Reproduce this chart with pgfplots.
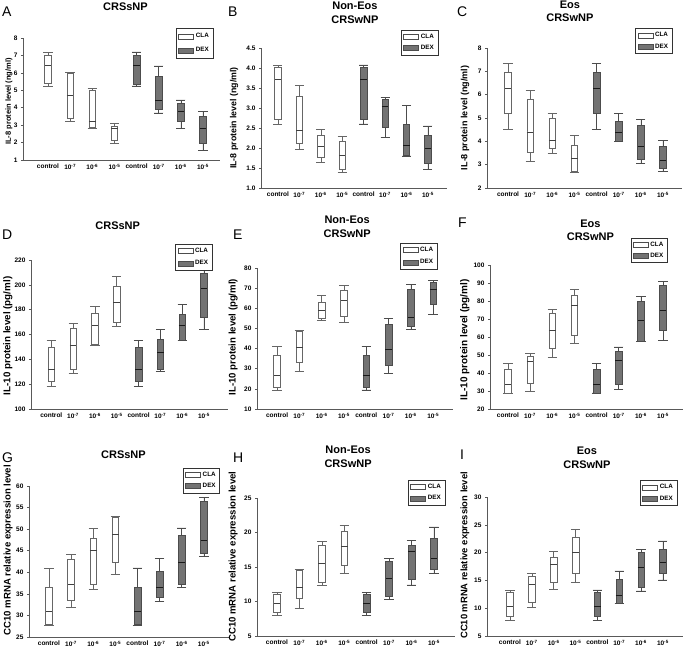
\documentclass[border=0pt]{standalone}
\usepackage{pgfplots}
\pgfplotsset{compat=1.18}
\usepackage{pgfplotstable}
\usepgfplotslibrary{statistics}
\usepackage{fontspec}
\setmainfont{Liberation Sans}

% columns: lower whisker, lower quartile, median, upper quartile, upper whisker; rows = control,1e-7,1e-6,1e-5 (CLA) then control,1e-7,1e-6,1e-5 (DEX)
\pgfplotstableread{
lw lq med uq uw
5.25 5.4 6.45 7.0 7.2
3.25 3.4 4.7 5.95 6.05
2.8 2.9 3.2 5.0 5.1
1.95 2.15 2.8 2.95 3.1
5.25 5.35 6.45 7.0 7.2
3.7 3.9 4.4 5.8 6.4
2.8 3.2 3.8 4.25 4.45
1.55 1.95 2.8 3.5 3.8
}\tA
\pgfplotstableread{
lw lq med uq uw
2.6 2.72 3.72 4.03 4.08
1.98 2.12 2.43 3.3 3.57
1.65 1.78 2.05 2.33 2.47
1.4 1.48 1.82 2.17 2.3
2.6 2.72 3.72 4.03 4.08
2.27 2.53 3.05 3.22 3.27
1.8 1.82 2.07 2.6 3.07
1.47 1.62 2.0 2.33 2.55
}\tB
\pgfplotstableread{
lw lq med uq uw
4.52 5.22 6.27 6.95 7.35
3.15 3.55 4.4 5.8 6.17
3.5 3.72 4.05 4.98 5.22
2.68 2.72 3.27 3.85 4.27
4.52 5.22 6.27 6.95 7.35
4.0 4.0 4.4 4.85 5.2
3.07 3.22 3.8 4.7 4.93
2.72 2.85 3.2 3.8 4.05
}\tC
\pgfplotstableread{
lw lq med uq uw
118 122 132 150 155
129 132 151 165 169
151 152 167 177 183
167 170 186 199 207
118 122 132 150 155
130 132 146 156 164
155 155 167 176 184
164 174 197 209 212
}\tD
\pgfplotstableread{
lw lq med uq uw
19.5 21 26.5 36.5 41
28.5 33 40.5 48.5 49
54 55 59 63 66.5
53 56 64 69 71.5
19.5 21 26.5 36.5 41
27.5 31.5 39.5 52 55
49.5 51 55.5 69.5 72
57 62 69.5 73 74
}\tE
\pgfplotstableread{
lw lq med uq uw
29 29 33.5 42 45.5
30 34.5 46.5 49.5 51
48.5 53.5 63.5 73 75.5
56.5 61 77.5 83 86.5
29 29 33.5 42 45.5
31 34 47 52 54.5
57.5 57.5 69 80 82.5
58 63.5 75 89 91
}\tF
\pgfplotstableread{
lw lq med uq uw
27.7 28 31 36.5 41
32 33.5 37.2 43 44.2
36 37.2 45 47.8 50.3
39.5 42.3 48.8 52.7 53
27.7 28 31 36.5 41
33.3 34.3 36.5 40.2 43.2
36.5 37.2 42.2 48.5 50.3
43.6 44.5 47.3 56.4 57.4
}\tG
\pgfplotstableread{
lw lq med uq uw
8.0 8.5 9.8 11 11.3
9.0 10.4 12.1 14.5 14.7
12.4 12.8 15.5 18.1 18.8
14.1 15.2 18 20.2 21
8.0 8.5 9.8 11 11.3
10.3 10.7 13.4 15.8 16.2
12.4 13.2 17.3 18.2 18.9
14.1 14.7 16.2 19.1 20.8
}\tH
\pgfplotstableread{
lw lq med uq uw
7.8 8.5 10.3 12.8 13.3
10.2 11.1 14.3 15.7 16.3
13.4 14.6 17.9 19.2 20.3
14.7 16.3 20 22.7 24.2
7.8 8.5 10.3 12.8 13.3
10.9 10.9 12.3 15.2 16.7
13.1 13.7 17.4 20 20.6
15.1 16.2 18.3 20.6 22.1
}\tI

\pgfplotsset{
  legsw/.style={legend image code/.code={\draw[##1] (0pt,-2.5pt) rectangle (15pt,2.5pt);}},
  panel/.style={
    scale only axis,
    anchor=south west,
    axis x line*=bottom,
    axis y line*=left,
    axis line style={-, black!65, line width=0.6pt},
    xtick={0,...,7},
    xticklabels={control,10\textsuperscript{-7},10\textsuperscript{-6},10\textsuperscript{-5},control,10\textsuperscript{-7},10\textsuperscript{-6},10\textsuperscript{-5}},
    xtick style={draw=none},
    ytick style={black!65, line width=0.5pt},
    tick align=outside,
    major tick length=2pt,
    /pgf/number format/assume math mode=true,
    tick label style={font=\bfseries\fontsize{6.5}{7}\selectfont},
    xticklabel style={inner sep=1pt, yshift=-1pt},
    title style={font=\bfseries\fontsize{11}{13.5}\selectfont, align=center, anchor=center},
    legend style={draw=black!80, line width=0.5pt, font=\bfseries\fontsize{6.3}{7}\selectfont,
      inner xsep=2pt, inner ysep=1.8pt, row sep=1.5pt, anchor=north east, cells={anchor=west}},
    legend cell align=left,
    boxplot/draw direction=y,
    boxplot/box extend=0.3,
    boxplot/whisker extend=0.42,
  },
  clabox/.style={draw=black!60, fill=white, line width=0.55pt,
    boxplot/every median/.style={draw=black!75, line width=0.7pt}},
  dexbox/.style={draw=black!70, fill=black!55, line width=0.55pt,
    boxplot/every median/.style={draw=black!90, line width=0.7pt}},
}

\newcommand{\onebox}[3]{% #1 table, #2 row (= draw position), #3 style
  \pgfplotstablegetelem{#2}{lw}\of#1\let\vlw\pgfplotsretval
  \pgfplotstablegetelem{#2}{lq}\of#1\let\vlq\pgfplotsretval
  \pgfplotstablegetelem{#2}{med}\of#1\let\vmed\pgfplotsretval
  \pgfplotstablegetelem{#2}{uq}\of#1\let\vuq\pgfplotsretval
  \pgfplotstablegetelem{#2}{uw}\of#1\let\vuw\pgfplotsretval
  \edef\doplot{\noexpand\addplot[#3, forget plot, boxplot prepared={draw position=#2, lower whisker=\vlw, lower quartile=\vlq, median=\vmed, upper quartile=\vuq, upper whisker=\vuw}] coordinates {};}%
  \doplot
}
\newcommand{\boxes}[1]{%
  \pgfplotsinvokeforeach{0,...,3}{\onebox{#1}{##1}{clabox}}
  \pgfplotsinvokeforeach{4,...,7}{\onebox{#1}{##1}{dexbox}}
  \addlegendimage{legsw, draw=black!70, fill=white, line width=0.5pt}
  \addlegendentry{CLA}
  \addlegendimage{legsw, draw=black!70, fill=black!55, line width=0.5pt}
  \addlegendentry{DEX}
}

\begin{document}
\begin{tikzpicture}
\useasboundingbox (0,0) rectangle (685pt,650pt);

% ---------------- Row 1 ----------------
\begin{axis}[panel, at={(23pt,490pt)}, width=197pt, height=122pt,
  xmin=-1.13, xmax=7.77, ymin=1, ymax=8, ytick={1,...,8},
  title={CRSsNP}, title style={at={(0.52,1.21)}},
  ylabel={IL-8 protein level (ng/ml)},
  ylabel style={font=\bfseries\fontsize{7.5}{9}\selectfont, at={(-0.071,0.48)}, anchor=center},
  legend style={at={(0.965,1.08)}, row sep=4pt, inner ysep=3pt}]
\boxes{\tA}
\end{axis}

\begin{axis}[panel, at={(261pt,462pt)}, width=186pt, height=140pt,
  xmin=-0.79, xmax=7.89, ymin=1, ymax=4.5, ytick={1,1.5,2,2.5,3,3.5,4,4.5},
  yticklabel style={/pgf/number format/.cd, fixed, fixed zerofill, precision=1},
  title={Non-Eos\\CRSwNP}, title style={at={(0.505,1.21)}},
  ylabel={IL-8 protein level (ng/ml)},
  ylabel style={font=\bfseries\fontsize{8.8}{10}\selectfont, at={(-0.145,0.5)}, anchor=center},
  legend style={at={(0.952,1.13)}}]
\boxes{\tB}
\end{axis}

\begin{axis}[panel, at={(487pt,462pt)}, width=195pt, height=140pt,
  xmin=-0.95, xmax=7.86, ymin=2, ymax=8, ytick={2,...,8},
  title={Eos\\CRSwNP}, title style={at={(0.425,1.22)}},
  ylabel={IL-8 protein level (ng/ml)},
  ylabel style={font=\bfseries\fontsize{9}{10}\selectfont, at={(-0.113,0.5)}, anchor=center},
  legend style={at={(0.95,1.14)}}]
\boxes{\tC}
\end{axis}

% ---------------- Row 2 ----------------
\begin{axis}[panel, at={(31pt,241pt)}, width=197pt, height=149pt,
  xmin=-0.93, xmax=8.1, ymin=100, ymax=220, ytick={100,120,...,220},
  title={CRSsNP}, title style={at={(0.44,1.19)}},
  ylabel={IL-10 protein level (pg/ml)},
  ylabel style={font=\bfseries\fontsize{9.8}{11}\selectfont, at={(-0.117,0.49)}, anchor=center},
  legend style={at={(0.92,1.11)}, row sep=3pt}]
\boxes{\tD}
\end{axis}

\begin{axis}[panel, at={(257pt,241pt)}, width=196pt, height=141pt,
  xmin=-0.9, xmax=7.89, ymin=10, ymax=80, ytick={10,20,...,80},
  title={Non-Eos\\CRSwNP}, title style={at={(0.46,1.25)}},
  ylabel={IL-10 protein level (pg/ml)},
  ylabel style={font=\bfseries\fontsize{9.6}{11}\selectfont, at={(-0.122,0.51)}, anchor=center},
  legend style={at={(0.92,1.18)}, row sep=3pt}]
\boxes{\tE}
\end{axis}

\begin{axis}[panel, at={(490pt,241pt)}, width=193pt, height=144pt,
  xmin=-0.81, xmax=7.9, ymin=20, ymax=100, ytick={20,30,...,100},
  title={Eos\\CRSwNP}, title style={at={(0.52,1.2)}},
  ylabel={IL-10 protein level (pg/ml)},
  ylabel style={font=\bfseries\fontsize{10}{11}\selectfont, at={(-0.13,0.48)}, anchor=center},
  legend style={at={(0.92,1.19)}}]
\boxes{\tF}
\end{axis}

% ---------------- Row 3 ----------------
\begin{axis}[panel, at={(29pt,13pt)}, width=201pt, height=151pt,
  xmin=-0.9, xmax=8.18, ymin=25, ymax=60, ytick={25,30,...,60},
  title={CRSsNP}, title style={at={(0.47,1.17)}},
  ylabel={CC10 mRNA relative expression level},
  ylabel style={font=\bfseries\fontsize{9.6}{11}\selectfont, at={(-0.104,0.575)}, anchor=center},
  legend style={at={(0.95,1.12)}}]
\boxes{\tG}
\end{axis}

\begin{axis}[panel, at={(257pt,14pt)}, width=198pt, height=138pt,
  xmin=-0.89, xmax=7.94, ymin=5, ymax=25, ytick={5,10,...,25},
  title={Non-Eos\\CRSwNP}, title style={at={(0.46,1.255)}},
  ylabel={CC10 mRNA relative expression level},
  ylabel style={font=\bfseries\fontsize{9.6}{11}\selectfont, at={(-0.121,0.575)}, anchor=center},
  legend style={at={(0.95,1.13)}}]
\boxes{\tH}
\end{axis}

\begin{axis}[panel, at={(487pt,14pt)}, width=196pt, height=139pt,
  xmin=-1.05, xmax=7.92, ymin=5, ymax=30, ytick={5,10,...,30},
  title={Eos\\CRSwNP}, title style={at={(0.51,1.24)}},
  ylabel={CC10 mRNA relative expression level},
  ylabel style={font=\bfseries\fontsize{9.4}{11}\selectfont, at={(-0.112,0.58)}, anchor=center},
  legend style={at={(0.97,1.12)}}]
\boxes{\tI}
\end{axis}

% panel letters
\begin{scope}[every node/.style={font=\fontsize{14}{14}\selectfont, anchor=west, inner sep=0pt}]
\node at (2pt,638pt) {A};
\node at (228pt,638pt) {B};
\node at (457pt,638pt) {C};
\node at (2pt,415pt) {D};
\node at (233pt,415pt) {E};
\node at (458pt,427pt) {F};
\node at (2pt,192pt) {G};
\node at (233pt,192pt) {H};
\node at (460pt,195pt) {I};
\end{scope}
\end{tikzpicture}
\end{document}
